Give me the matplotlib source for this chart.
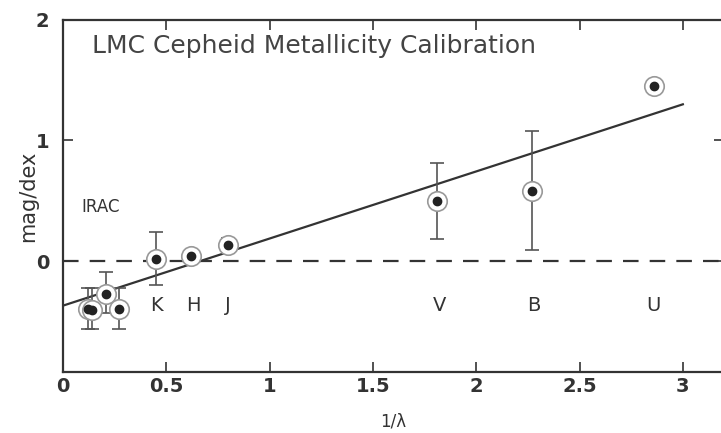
# LMC Cepheid metallicity calibration: mag/dex against inverse wavelength

import matplotlib.pyplot as plt
import numpy as np

# Band data (1/lambda, mag/dex, lower and upper error)
inv_lam = np.array([0.12, 0.14, 0.21, 0.27, 0.45, 0.62, 0.80, 1.81, 2.27, 2.86])
mag_dex = np.array([-0.40, -0.41, -0.27, -0.40, 0.02, 0.04, 0.13, 0.50, 0.58, 1.45])
err_lo = np.array([0.16, 0.15, 0.16, 0.16, 0.22, 0.03, 0.06, 0.32, 0.49, 0.0])
err_hi = np.array([0.18, 0.19, 0.18, 0.18, 0.22, 0.03, 0.06, 0.31, 0.50, 0.0])

band_names = ["K", "H", "J", "V", "B", "U"]
band_pos = [0.45, 0.63, 0.80, 1.82, 2.28, 2.86]

# Linear fit
fit_x = np.array([0.0, 3.0])
fit_y = np.array([-0.37, 1.30])

ink = "#333333"
plt.rcParams["font.family"] = "DejaVu Sans"

fig = plt.figure(figsize=(7.21, 4.33), dpi=100)
ax = fig.add_axes([0.0874, 0.141, 0.917, 0.813])

ax.axhline(0, color=ink, lw=1.6, dashes=(7, 5))
ax.plot(fit_x, fit_y, color=ink, lw=1.6)

ax.errorbar(inv_lam, mag_dex, yerr=[err_lo, err_hi], fmt="none",
            ecolor="#555555", elinewidth=1.2, capsize=5, capthick=1.2)
ax.plot(inv_lam, mag_dex, "o", ms=14, mfc="white", mec="#999999", mew=1.2)
ax.plot(inv_lam, mag_dex, "o", ms=6, color="#222222")

for name, pos in zip(band_names, band_pos):
    ax.text(pos, -0.37, name, ha="center", va="center", fontsize=14, color=ink)
ax.text(0.09, 0.45, "IRAC", ha="left", va="center", fontsize=12, color=ink)
ax.text(0.14, 1.78, "LMC Cepheid Metallicity Calibration", ha="left", va="center",
        fontsize=18, color="#444444")

ax.set_xlim(0, 3.2)
ax.set_ylim(-0.92, 2)
ax.set_xticks([0, 0.5, 1, 1.5, 2, 2.5, 3])
ax.set_xticklabels(["0", "0.5", "1", "1.5", "2", "2.5", "3"])
ax.set_yticks([0, 1, 2])
ax.tick_params(direction="in", length=7, width=1.2, top=True, right=True,
               labelsize=14, colors=ink)
ax.tick_params(axis="y", pad=10)
for lbl in ax.get_xticklabels() + ax.get_yticklabels():
    lbl.set_fontweight("bold")
for sp in ax.spines.values():
    sp.set_linewidth(1.6)
    sp.set_color(ink)

ax.set_xlabel("1/λ", fontsize=12, color=ink, labelpad=12)
ax.set_ylabel("mag/dex", fontsize=15, color=ink)
ax.yaxis.set_label_coords(-0.038, 0.5)

fig.savefig("out.png", dpi=100)
